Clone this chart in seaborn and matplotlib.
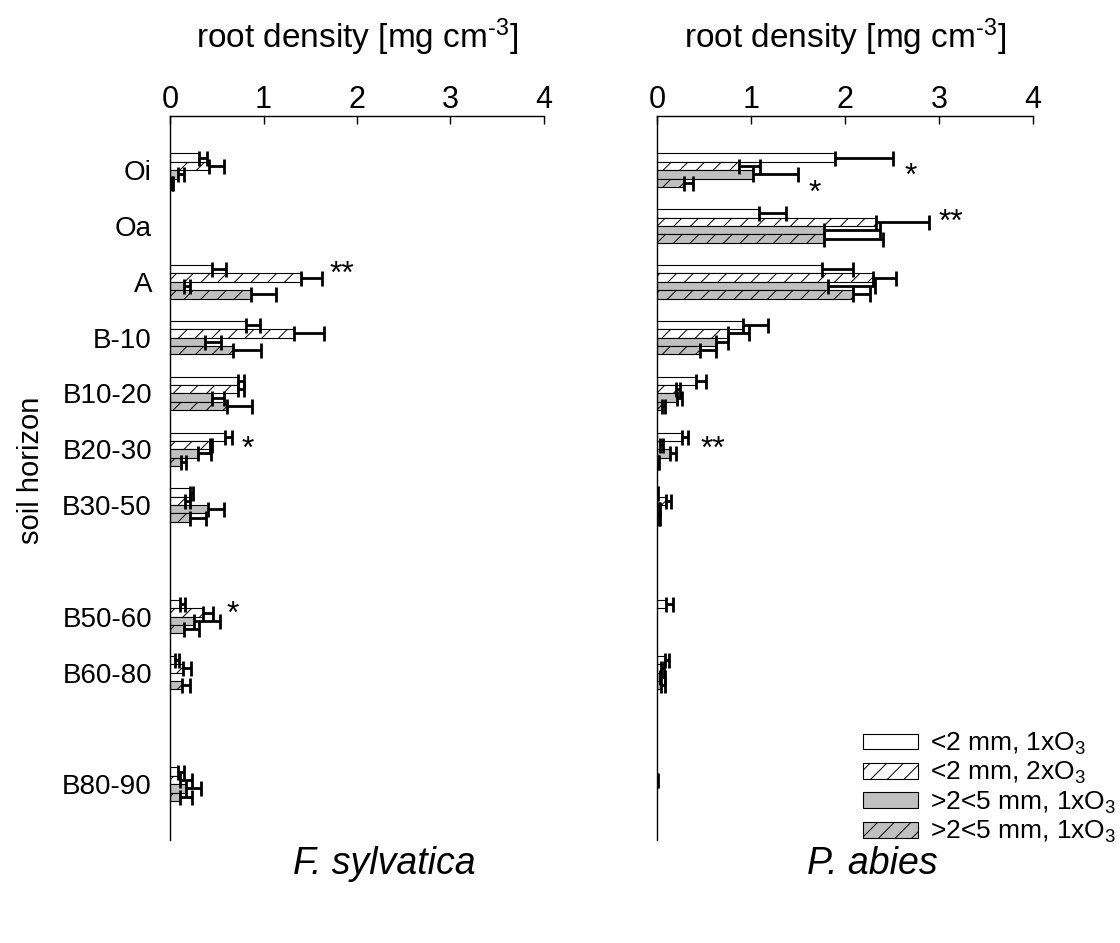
import numpy as np
import pandas as pd
import matplotlib
matplotlib.use("Agg")
import matplotlib.pyplot as plt
import matplotlib.patches as mpatches
from matplotlib.container import BarContainer
import seaborn as sns

# ---------------- data ----------------
horizons = ["Oi", "Oa", "A", "B-10", "B10-20", "B20-30", "B30-50", "B50-60", "B60-80", "B80-90"]
depth_pos = [0, 1, 2, 3, 4, 5, 6, 8, 9, 11]

series = ["<2 mm, 1xO$_3$", "<2 mm, 2xO$_3$", ">2<5 mm, 1xO$_3$", ">2<5 mm, 1xO$_3$ "]
legend_labels = ["<2 mm, 1xO$_3$", "<2 mm, 2xO$_3$", ">2<5 mm, 1xO$_3$", ">2<5 mm, 1xO$_3$"]
nan = np.nan

# F. sylvatica
fs_fine_1x = [0.31, nan, 0.45, 0.81, 0.73, 0.59, 0.21, 0.11, 0.05, 0.09]
fs_fine_1x_err = [0.09, nan, 0.15, 0.15, 0.06, 0.07, 0.04, 0.05, 0.05, 0.06]
fs_fine_2x = [0.42, nan, 1.40, 1.33, 0.73, 0.43, 0.16, 0.35, 0.14, 0.11]
fs_fine_2x_err = [0.16, nan, 0.23, 0.32, 0.06, 0.02, 0.05, 0.11, 0.08, 0.12]
fs_coarse_1x = [0.09, nan, 0.15, 0.37, 0.45, 0.30, 0.41, 0.26, nan, 0.17]
fs_coarse_1x_err = [0.06, nan, 0.06, 0.18, 0.13, 0.14, 0.17, 0.27, nan, 0.16]
fs_coarse_2x = [0.025, nan, 0.87, 0.67, 0.61, 0.12, 0.21, 0.15, 0.13, 0.11]
fs_coarse_2x_err = [0.01, nan, 0.26, 0.30, 0.27, 0.05, 0.17, 0.16, 0.08, 0.12]

# P. abies
pa_fine_1x = [1.89, 1.08, 1.76, 0.92, 0.42, 0.27, 0.005, 0.10, 0.09, nan]
pa_fine_1x_err = [0.62, 0.29, 0.33, 0.26, 0.10, 0.06, 0.01, 0.07, 0.04, nan]
pa_fine_2x = [0.87, 2.33, 2.30, 0.76, 0.20, 0.03, 0.10, nan, 0.04, 0.005]
pa_fine_2x_err = [0.23, 0.56, 0.24, 0.22, 0.04, 0.03, 0.05, nan, 0.03, 0.01]
pa_coarse_1x = [1.02, 1.78, 1.82, 0.63, 0.21, 0.14, 0.02, nan, 0.03, nan]
pa_coarse_1x_err = [0.48, 0.59, 0.50, 0.13, 0.06, 0.06, 0.01, nan, 0.06, nan]
pa_coarse_2x = [0.29, 1.78, 2.08, 0.46, 0.05, 0.01, 0.02, nan, 0.04, nan]
pa_coarse_2x_err = [0.09, 0.62, 0.19, 0.17, 0.04, 0.015, 0.01, nan, 0.05, nan]

# significance marks: (x, y, text)
fs_marks = [(1.71, 1.88, "**"), (0.77, 5.02, "*"), (0.60, 7.96, "*")]
pa_marks = [(2.63, 0.12, "*"), (1.61, 0.43, "*"), (2.99, 0.94, "**"), (0.46, 5.02, "**")]

# ---------------- style ----------------
sns.set_style("white")
plt.rcParams["font.family"] = ["Liberation Sans", "DejaVu Sans"]
plt.rcParams["mathtext.fontset"] = "custom"
plt.rcParams["mathtext.rm"] = "Liberation Sans"
plt.rcParams["mathtext.it"] = "Liberation Sans:italic"
plt.rcParams["mathtext.default"] = "regular"
plt.rcParams["hatch.linewidth"] = 0.7
for k in ["text.color", "axes.labelcolor", "xtick.color", "ytick.color"]:
    plt.rcParams[k] = "black"

fills = ["white", "white", "#c0c0c0", "#c0c0c0"]
hatches = [None, "//", None, "//"]

W, H = 1120, 943
fig = plt.figure(figsize=(W / 100, H / 100), dpi=100)
ax_top, ax_bot = 116, 840
axL = fig.add_axes([170 / W, 1 - ax_bot / H, (544 - 170) / W, (ax_bot - ax_top) / H])
axR = fig.add_axes([657 / W, 1 - ax_bot / H, (1033 - 657) / W, (ax_bot - ax_top) / H])


def panel(ax, vals, errs, marks, show_labels):
    rows = []
    for s, v in zip(series, vals):
        for p, vi in zip(depth_pos, v):
            if not np.isnan(vi):
                rows.append({"pos": p, "value": vi, "series": s})
    df = pd.DataFrame(rows)
    sns.barplot(data=df, x="value", y="pos", hue="series", hue_order=series,
                palette=dict(zip(series, fills)), orient="h", native_scale=True,
                width=0.6, gap=0, dodge=True, errorbar=None, edgecolor="black",
                linewidth=0.8, saturation=1, legend=False, ax=ax)
    bar_conts = [c for c in ax.containers if isinstance(c, BarContainer)]
    for ci, cont in enumerate(bar_conts):
        emap = dict(zip(depth_pos, errs[ci]))
        for patch in cont:
            patch.set_hatch(hatches[ci])
            yc = patch.get_y() + patch.get_height() / 2
            p = min(depth_pos, key=lambda q: abs(q - yc))
            e = emap[p]
            if np.isnan(e):
                continue
            ax.errorbar(patch.get_width(), yc, xerr=[[0], [e]], fmt="none",
                        ecolor="black", elinewidth=2, capsize=5.4, capthick=2, zorder=3)
    for x, y, t in marks:
        ax.text(x, y, t, fontsize=23, ha="left", va="center")

    ax.set_xlim(0, 4)
    ax.set_ylim(12.0, -0.97)
    ax.set_xticks([0, 1, 2, 3, 4])
    ax.set_xticklabels(["0", "1", "2", "3", "4"])
    ax.xaxis.tick_top()
    ax.xaxis.set_label_position("top")
    ax.tick_params(axis="x", direction="in", length=6, width=1, top=True, bottom=False,
                   labeltop=True, labelbottom=False, pad=1, labelsize=22, colors="black")
    ax.set_xlabel("root density [mg cm$^{\\text{-3}}$]", fontsize=24)
    ax.xaxis.label.set_va("center")
    ax.xaxis.set_label_coords(0.5, 1 + (ax_top - 37) / (ax_bot - ax_top))
    if show_labels:
        ax.set_yticks(depth_pos)
        ax.set_yticklabels(horizons)
        ax.tick_params(axis="y", length=0, pad=13, labelsize=20)
    else:
        ax.set_yticks([])
    ax.set_ylabel("")
    for side in ["right", "bottom"]:
        ax.spines[side].set_visible(False)
    for side in ["top", "left"]:
        ax.spines[side].set_visible(True)
        ax.spines[side].set_color("black")
        ax.spines[side].set_linewidth(1)


panel(axL, [fs_fine_1x, fs_fine_2x, fs_coarse_1x, fs_coarse_2x],
      [fs_fine_1x_err, fs_fine_2x_err, fs_coarse_1x_err, fs_coarse_2x_err], fs_marks, True)
panel(axR, [pa_fine_1x, pa_fine_2x, pa_coarse_1x, pa_coarse_2x],
      [pa_fine_1x_err, pa_fine_2x_err, pa_coarse_1x_err, pa_coarse_2x_err], pa_marks, False)

fig.text(31 / W, 1 - 470 / H, "soil horizon", rotation=90, fontsize=21, ha="center", va="center")
fig.text(384 / W, 1 - 864 / H, "F. sylvatica", style="italic", fontsize=27, ha="center", va="center")
fig.text(872 / W, 1 - 864 / H, "P. abies", style="italic", fontsize=27, ha="center", va="center")

handles = [mpatches.Patch(facecolor=f, edgecolor="black", hatch=h, linewidth=0.8)
           for f, h in zip(fills, hatches)]
fig.legend(handles, legend_labels, loc="center left", bbox_to_anchor=(863 / W, 1 - 788 / H),
           frameon=False, fontsize=19, handlelength=2.1, handleheight=0.55,
           handletextpad=0.45, labelspacing=0.12, borderpad=0, borderaxespad=0)

fig.savefig("out.png", dpi=100)
